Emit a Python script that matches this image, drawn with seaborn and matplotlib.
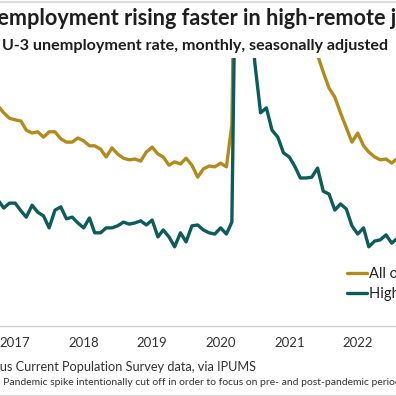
import pandas as pd
import matplotlib
matplotlib.use("Agg")
import matplotlib.pyplot as plt
import matplotlib.dates as mdates
from matplotlib.lines import Line2D
import seaborn as sns

# monthly data, Oct 2016 - Sep 2022 (unemployment rate, %)
months = pd.date_range("2016-10-01", "2022-09-01", freq="MS")

all_other = [5.34, 5.17, 5.04, 5.00, 4.97, 4.75, 4.68, 4.71, 4.58, 4.71,
             4.71, 4.54, 4.46, 4.46, 4.56, 4.49, 4.37, 4.37, 4.29, 4.10,
             4.32, 4.17, 4.07, 4.03, 4.05, 4.00, 4.22, 4.34, 4.17, 4.10,
             3.90, 3.98, 3.93, 4.07, 3.90, 3.61, 3.81, 3.88, 3.86, 3.95,
             3.86, 4.88, 14.5, 13.0, 11.8, 11.0, 10.0, 9.0, 8.0, 7.6,
             7.4, 7.3, 7.2, 7.0, 6.9, 6.85, 6.57, 6.16, 5.77, 5.55,
             5.17, 4.81, 4.46, 4.68, 4.37, 4.22, 4.10, 4.03, 4.05, 3.95,
             4.07, 4.00]

high_remote = [3.06, 2.86, 2.98, 2.98, 2.79, 2.64, 2.93, 2.76, 2.67, 2.38,
               2.81, 2.89, 2.60, 2.64, 2.50, 2.38, 2.62, 2.26, 2.26, 2.38,
               2.38, 2.43, 2.52, 2.47, 2.50, 2.55, 2.45, 2.57, 2.16, 2.33,
               2.16, 1.92, 2.26, 2.04, 2.43, 2.45, 2.33, 2.26, 2.23, 2.38,
               2.23, 2.52, 13.0, 11.5, 8.15, 6.4, 5.17, 5.29, 4.75, 4.58,
               4.20, 4.10, 3.86, 3.59, 3.59, 3.61, 3.83, 3.27, 3.20, 2.81,
               2.96, 2.84, 2.43, 2.23, 2.38, 1.92, 2.06, 2.09, 2.21, 2.01,
               2.13, 2.10]

series_names = ["All other occupations", "High-remote occupations"]
palette = {"All other occupations": "#b38b1d", "High-remote occupations": "#0d5c5b"}

df = pd.concat([
    pd.DataFrame({"month": months, "rate": all_other, "group": series_names[0]}),
    pd.DataFrame({"month": months, "rate": high_remote, "group": series_names[1]}),
])

sns.set_style("white")
plt.rcParams["font.family"] = ["Lato", "DejaVu Sans"]

W, H = 396, 396
fig = plt.figure(figsize=(W / 100, H / 100), dpi=100)
ax = fig.add_axes([0, 1 - 326 / H, 1, (326 - 58) / H])

sns.lineplot(data=df, x="month", y="rate", hue="group", palette=palette,
             linewidth=2.4, ax=ax, legend=False)

ax.set_xlim(pd.Timestamp("2016-10-12"), pd.Timestamp("2022-07-24"))
ax.set_ylim(0, 6.5)
ax.xaxis.set_major_locator(mdates.YearLocator())
ax.xaxis.set_major_formatter(mdates.DateFormatter("%Y"))
ax.tick_params(axis="x", length=0, pad=8, labelsize=9.5, labelcolor="#333333")
ax.set_yticks([])
ax.set_xlabel("")
ax.set_ylabel("")
for s in ["top", "left", "right"]:
    ax.spines[s].set_visible(False)
ax.spines["bottom"].set_color("#d0d0d0")
ax.spines["bottom"].set_linewidth(1)

# legend
handles = [Line2D([], [], color=palette[n], lw=2.4) for n in series_names]
ax.legend(handles, series_names, loc="upper left", frameon=False,
          bbox_to_anchor=(347 / W, 1 - 267 / H), bbox_transform=fig.transFigure,
          borderaxespad=0, borderpad=0, handlelength=1.4, handletextpad=0.1,
          labelspacing=0.42, fontsize=10.5, labelcolor="#222222")

renderer = fig.canvas.get_renderer()


def cut_text(prefix, rest, x_px, y_px, **kw):
    # place text so that `rest` starts at x_px (prefix runs off the left edge)
    t = fig.text(0, 0, prefix, **kw)
    w = t.get_window_extent(renderer).width if prefix else 0
    t.remove()
    fig.text((x_px - w) / W, 1 - y_px / H, prefix + rest, va="baseline", **kw)


cut_text("Un", "employment rising faster in high-remote jobs", -3, 25,
         fontsize=15.6, fontweight="bold", color="#1e1e1e")
cut_text("", "U-3 unemployment rate, monthly, seasonally adjusted", 2, 50,
         fontsize=11.6, fontweight="bold", color="#1e1e1e")
cut_text("Source: Cens", "us Current Population Survey data, via IPUMS", 0, 371,
         fontsize=9.2, color="#333333")
cut_text("Note: ", "Pandemic spike intentionally cut off in order to focus on "
         "pre- and post-pandemic periods.", 3.5, 385, fontsize=7.5, color="#333333")

# thin rules at top and bottom
fig.add_artist(Line2D([0, 1], [1 - 1.5 / H] * 2, color="#dddddd", lw=1.5))
fig.add_artist(Line2D([0, 1], [1 - 394.5 / H] * 2, color="#dddddd", lw=1))

fig.savefig("out.png", dpi=100)
